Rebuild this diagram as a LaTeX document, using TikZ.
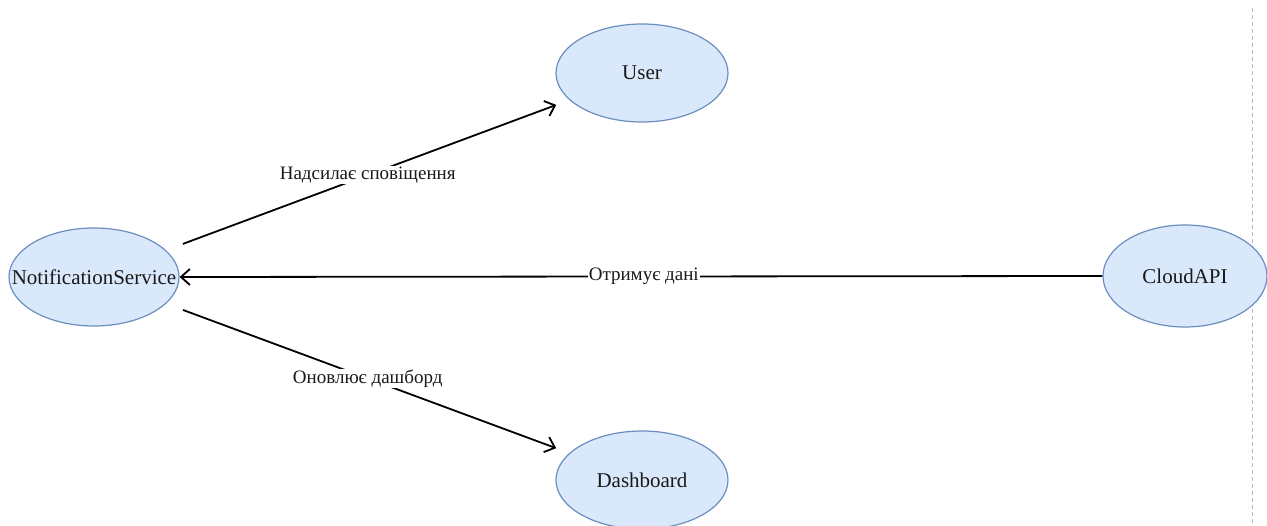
\documentclass[tikz,border=0pt]{standalone}
\usepackage{fontspec}
\setmainfont{Liberation Serif}
\usetikzlibrary{shapes.geometric,arrows.meta}
\definecolor{ellfill}{HTML}{DAE8FC}
\definecolor{elldraw}{HTML}{6C8EBF}
\definecolor{sepline}{HTML}{B8B8B8}
\tikzset{
  usecase/.style={ellipse, draw=elldraw, fill=ellfill, line width=1.2pt,
    inner sep=0pt, minimum width=170pt, minimum height=98pt,
    label={[font=\fontsize{21}{25}\selectfont, text=black!90]center:#1}},
  flow/.style={line width=1.8pt, draw=black,
    -{Straight Barb[length=9pt,width=16pt,line width=1.8pt]}},
  flowlabel/.style={fill=white, inner sep=1pt, font=\fontsize{19}{23}\selectfont, text=black!90}
}
\begin{document}
\begin{tikzpicture}[x=1pt,y=-1pt]
  \useasboundingbox[fill=white] (0,0) rectangle (1267,526);

  % separator on the right
  \coordinate (septop) at (1252,8);
  \coordinate (sepbot) at (1252,526);
  \draw[sepline, line width=1pt, dash pattern=on 4pt off 3pt] (septop) -- (sepbot);

  % use cases
  \node[usecase=NotificationService] (ns) at (94,277) {};
  \node[usecase=User, minimum width=172pt] (user) at (642,73) {};
  \node[usecase=Dashboard, minimum width=172pt] (dash) at (642,480) {};
  \node[usecase=CloudAPI, minimum width=164pt, minimum height=102pt] (cloud) at (1185,276) {};

  % connectors
  \draw[flow, shorten <=18pt, shorten >=14pt] (ns) -- (user)
    node[flowlabel, midway] {Надсилає сповіщення};
  \draw[flow] (cloud.west) -- (ns.east)
    node[flowlabel, pos=0.497] {Отримує дані};
  \draw[flow, shorten <=18pt, shorten >=14pt] (ns) -- (dash)
    node[flowlabel, midway] {Оновлює дашборд};
\end{tikzpicture}
\end{document}
